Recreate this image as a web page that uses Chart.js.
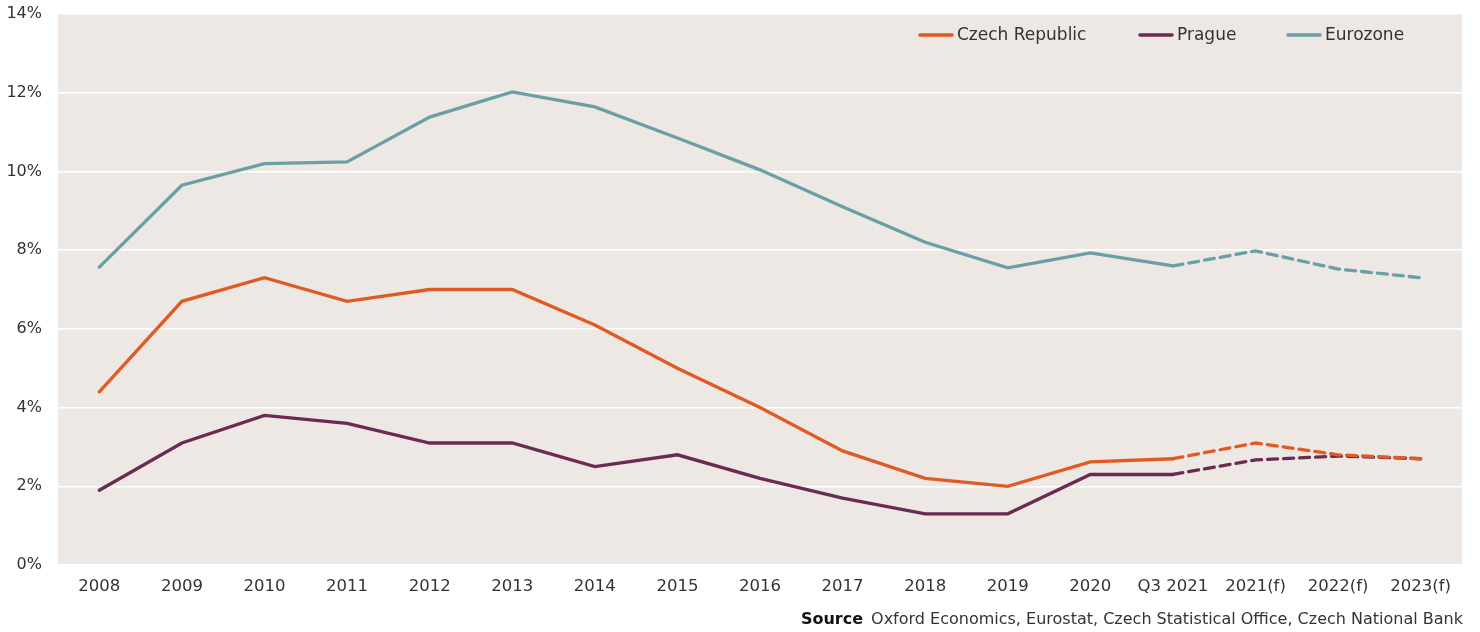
<!DOCTYPE html>
<html>
<head>
<meta charset="utf-8">
<script src="https://cdn.jsdelivr.net/npm/chart.js@4.4.0/dist/chart.umd.min.js"></script>
<style>
  html, body { margin: 0; padding: 0; background: #ffffff; }
  #wrap { width: 1480px; height: 632px; position: relative; }
</style>
</head>
<body>
<div id="wrap"><canvas id="rateChart" width="1480" height="632"></canvas></div>
<script>
  // categories and series (unemployment rate, %)
  const years = ["2008", "2009", "2010", "2011", "2012", "2013", "2014", "2015", "2016",
                 "2017", "2018", "2019", "2020", "Q3 2021", "2021(f)", "2022(f)", "2023(f)"];
  const czechRepublic = [4.4, 6.7, 7.3, 6.7, 7.0, 7.0, 6.1, 5.0, 4.0, 2.9, 2.2, 2.0, 2.62, 2.7, 3.1, 2.8, 2.7];
  const prague        = [1.9, 3.1, 3.8, 3.6, 3.1, 3.1, 2.5, 2.8, 2.2, 1.7, 1.3, 1.3, 2.3, 2.3, 2.67, 2.77, 2.7];
  const eurozone      = [7.57, 9.65, 10.2, 10.24, 11.38, 12.02, 11.64, 10.85, 10.04, 9.1, 8.2, 7.55, 7.93, 7.6, 7.98, 7.52, 7.3];
  const forecastFrom = 13; // index of "Q3 2021": segments after it are dashed
  const sourceNote = "Oxford Economics, Eurostat, Czech Statistical Office, Czech National Bank";

  const FONT = "'DejaVu Sans', sans-serif";
  const TEXT = "#333333";

  function series(label, data, color) {
    return {
      label, data,
      borderColor: color,
      backgroundColor: color,
      borderWidth: 3.3,
      pointRadius: 0,
      tension: 0,
      borderCapStyle: "round",
      segment: {
        borderDash: ctx => ctx.p0DataIndex >= forecastFrom ? [10, 6] : undefined
      }
    };
  }

  // grey plot panel behind the grid
  const panel = {
    id: "panel",
    beforeDraw(chart) {
      const { ctx, chartArea: a } = chart;
      ctx.save();
      ctx.fillStyle = "#ede8e4";
      ctx.fillRect(a.left, a.top, a.right - a.left, a.bottom - a.top);
      ctx.restore();
    }
  };

  // legend inside the panel + source line under the axis
  const extras = {
    id: "extras",
    afterDraw(chart) {
      const { ctx } = chart;
      ctx.save();
      const starts = [918, 1138, 1286];
      chart.data.datasets.forEach((ds, i) => {
        const x = starts[i], y = 35;
        ctx.strokeStyle = ds.borderColor;
        ctx.lineWidth = 3.6;
        ctx.lineCap = "round";
        ctx.beginPath();
        ctx.moveTo(x + 2, y);
        ctx.lineTo(x + 34, y);
        ctx.stroke();
        ctx.fillStyle = TEXT;
        ctx.font = "17px " + FONT;
        ctx.textBaseline = "middle";
        ctx.textAlign = "left";
        ctx.fillText(ds.label, x + 39, y + 1);
      });

      ctx.textBaseline = "middle";
      ctx.textAlign = "right";
      ctx.font = "16px " + FONT;
      const right = 1463;
      const w = ctx.measureText(sourceNote).width;
      ctx.fillStyle = TEXT;
      ctx.fillText(sourceNote, right, 620);
      ctx.font = "bold 16px " + FONT;
      ctx.fillStyle = "#111111";
      ctx.fillText("Source", right - w - 8, 620);
      ctx.restore();
    }
  };

  new Chart(document.getElementById("rateChart"), {
    type: "line",
    data: {
      labels: years,
      datasets: [
        series("Czech Republic", czechRepublic, "#e05a24"),
        series("Prague", prague, "#6b2a50"),
        series("Eurozone", eurozone, "#6a9fa6")
      ]
    },
    plugins: [panel, extras],
    options: {
      responsive: false,
      animation: false,
      layout: { padding: { top: 14, right: 18, bottom: 33, left: 0 } },
      plugins: {
        legend: { display: false },
        tooltip: { enabled: false }
      },
      scales: {
        x: {
          offset: true,
          grid: { display: false, drawTicks: false },
          border: { display: false },
          ticks: { color: TEXT, font: { family: FONT, size: 16.5 }, padding: 12, maxRotation: 0, autoSkip: false },
          afterFit(scale) { scale.height = 34; scale.paddingTop = 0; scale.paddingBottom = 0; }
        },
        y: {
          min: 0, max: 14,
          grid: { color: "#ffffff", lineWidth: 1.5, drawTicks: false },
          border: { display: false },
          ticks: {
            stepSize: 2,
            color: TEXT,
            font: { family: FONT, size: 16 },
            padding: 16,
            callback: v => v + "%"
          },
          afterFit(scale) { scale.width = 58; scale.paddingTop = 0; scale.paddingBottom = 0; }
        }
      }
    }
  });
</script>
</body>
</html>
